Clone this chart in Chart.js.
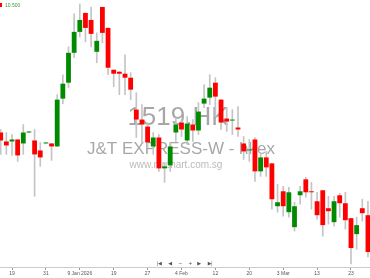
<!DOCTYPE html>
<html>
<head>
<meta charset="utf-8">
<script src="https://cdn.jsdelivr.net/npm/chart.js@4.4.0/dist/chart.umd.min.js"></script>
<style>
  html, body { margin: 0; padding: 0; background: #fff; }
  #wrap { position: relative; width: 370px; height: 278px; overflow: hidden; }
  .nav { position: absolute; top: 263px; transform: translate(-50%, -50%); font: 5px "DejaVu Sans"; color: #555; white-space: nowrap; letter-spacing: -0.5px; }
</style>
</head>
<body>
<div id="wrap">
  <canvas id="chart" width="370" height="278"></canvas>
  <span class="nav" style="left:159px">|◀</span>
  <span class="nav" style="left:170px">◀</span>
  <span class="nav" style="left:180px">−</span>
  <span class="nav" style="left:190px">+</span>
  <span class="nav" style="left:199px">▶</span>
  <span class="nav" style="left:210px">▶|</span>
</div>
<script>
// 1519.HK daily candles (HKD)
const opens = [
  9.22, 9.13, 9.13, 9.15, 9.11, 9.22, 9.14, 9.04, 9.11, 9.11,
  9.08, 9.56, 9.72, 10.02, 10.23, 10.42, 10.35, 10.03, 10.48, 10.27,
  9.85, 9.83, 9.81, 9.77, 9.45, 9.35, 9.28, 9.08, 9.17, 8.86,
  8.89, 9.22, 9.32, 9.14, 9.30, 9.24, 9.51, 9.57, 9.72, 9.55,
  9.36, 9.34, 9.27, 9.11, 9.04, 9.15, 8.83, 8.97, 8.91, 8.48,
  8.63, 8.42, 8.27, 8.59, 8.75, 8.63, 8.53, 8.64, 8.46, 8.32,
  8.59, 8.51, 8.36, 8.20, 8.46, 8.39
];
const highs = [
  9.25, 9.22, 9.20, 9.15, 9.30, 9.23, 9.25, 9.12, 9.12, 9.11,
  9.60, 9.80, 10.08, 10.41, 10.51, 10.42, 10.48, 10.22, 10.48, 10.27,
  9.85, 9.83, 10.00, 9.82, 9.62, 9.50, 9.32, 9.22, 9.20, 8.92,
  9.12, 9.37, 9.35, 9.38, 9.35, 9.52, 9.70, 9.80, 9.77, 9.55,
  9.47, 9.45, 9.48, 9.18, 9.15, 9.17, 9.02, 9.03, 8.91, 8.70,
  8.68, 8.67, 8.52, 8.68, 8.77, 8.72, 8.62, 8.64, 8.58, 8.58,
  8.61, 8.62, 8.36, 8.37, 8.55, 8.53
];
const lows = [
  9.00, 9.00, 8.99, 8.93, 9.00, 9.22, 8.58, 8.88, 9.11, 8.94,
  9.08, 9.51, 9.67, 9.97, 10.18, 10.13, 10.08, 9.92, 10.12, 9.80,
  9.68, 9.60, 9.60, 9.55, 9.17, 9.12, 9.07, 9.00, 8.83, 8.72,
  8.83, 9.13, 9.18, 9.10, 9.13, 9.20, 9.47, 9.50, 9.38, 9.25,
  9.23, 9.20, 9.18, 8.95, 8.93, 8.73, 8.78, 8.78, 8.45, 8.42,
  8.38, 8.37, 8.23, 8.50, 8.57, 8.45, 8.35, 8.18, 8.30, 8.28,
  8.37, 8.25, 7.90, 8.05, 8.33, 7.97
];
const closes = [
  9.14, 9.09, 9.15, 8.99, 9.22, 9.23, 9.00, 8.97, 9.12, 9.08,
  9.55, 9.71, 10.02, 10.23, 10.35, 10.27, 10.21, 10.14, 10.22, 9.87,
  9.81, 9.81, 9.77, 9.65, 9.35, 9.30, 9.12, 9.17, 8.86, 8.88,
  9.08, 9.30, 9.25, 9.31, 9.24, 9.43, 9.56, 9.67, 9.58, 9.32,
  9.33, 9.35, 9.25, 9.03, 9.05, 8.83, 8.97, 8.87, 8.55, 8.52,
  8.48, 8.62, 8.48, 8.63, 8.62, 8.62, 8.39, 8.29, 8.43, 8.53,
  8.51, 8.34, 8.06, 8.29, 8.41, 8.02
];

// x-axis labels sit on every sixth session
const tickIndex = [2, 8, 14, 20, 26, 32, 38, 44, 50, 56, 62];
const tickText = ['19', '31', '9 Jan 2026', '19', '27', '4 Feb', '12', '20', '3 Mar', '13', '23'];

const UP = '#008a00';
const DOWN = '#ff0000';

// stock name / site watermark behind the candles
const watermark = {
  id: 'watermark',
  beforeDatasetsDraw(chart) {
    const c = chart.ctx;
    c.save();
    c.textAlign = 'center';
    c.fillStyle = 'rgba(120,120,120,0.65)';
    c.font = '26px "Liberation Sans"';
    c.fillText('1519.HK', 178, 125);
    c.font = '17px "Liberation Sans"';
    c.fillText('J&T EXPRESS-W - hkex', 181, 154);
    c.fillStyle = 'rgba(140,140,140,0.6)';
    c.font = '10px "Liberation Sans"';
    c.fillText('www.mrchart.com.sg', 176, 168);
    // top-left price tag
    c.textAlign = 'left';
    c.fillStyle = DOWN;
    c.fillRect(0, 3, 2, 4);
    c.fillStyle = '#3a9a3a';
    c.font = '5px "Liberation Sans"';
    c.fillText('10.500', 5, 7);
    c.restore();
  }
};

const bodyColors = opens.map((o, i) => closes[i] >= o ? UP : DOWN);

new Chart(document.getElementById('chart'), {
  type: 'bar',
  data: {
    datasets: [
      {
        label: 'body',
        data: opens.map((o, i) => ({ x: i, y: [o, closes[i]] })),
        backgroundColor: bodyColors,
        borderWidth: 0,
        barPercentage: 0.85,
        categoryPercentage: 1,
        grouped: false,
        order: 0
      },
      {
        label: 'wick',
        data: lows.map((l, i) => ({ x: i, y: [l, highs[i]] })),
        backgroundColor: '#c4c4c4',
        borderWidth: 0,
        barThickness: 1,
        grouped: false,
        order: 1
      }
    ]
  },
  options: {
    responsive: false,
    animation: false,
    layout: { padding: 0 },
    plugins: {
      legend: { display: false },
      tooltip: { enabled: false }
    },
    scales: {
      x: {
        type: 'linear',
        min: -0.124,
        max: 65.363,
        offset: false,
        afterBuildTicks: scale => {
          scale.ticks = tickIndex.map(v => ({ value: v }));
        },
        ticks: {
          callback: v => tickText[tickIndex.indexOf(v)],
          font: { size: 5, family: 'Liberation Sans' },
          color: '#555',
          padding: 1,
          maxRotation: 0,
          autoSkip: false
        },
        grid: { drawOnChartArea: false, offset: false, tickLength: 3, color: '#999' },
        border: { color: '#ccc' }
      },
      y: { display: false, min: 7.87, max: 10.55 }
    }
  },
  plugins: [watermark]
});
</script>
</body>
</html>
